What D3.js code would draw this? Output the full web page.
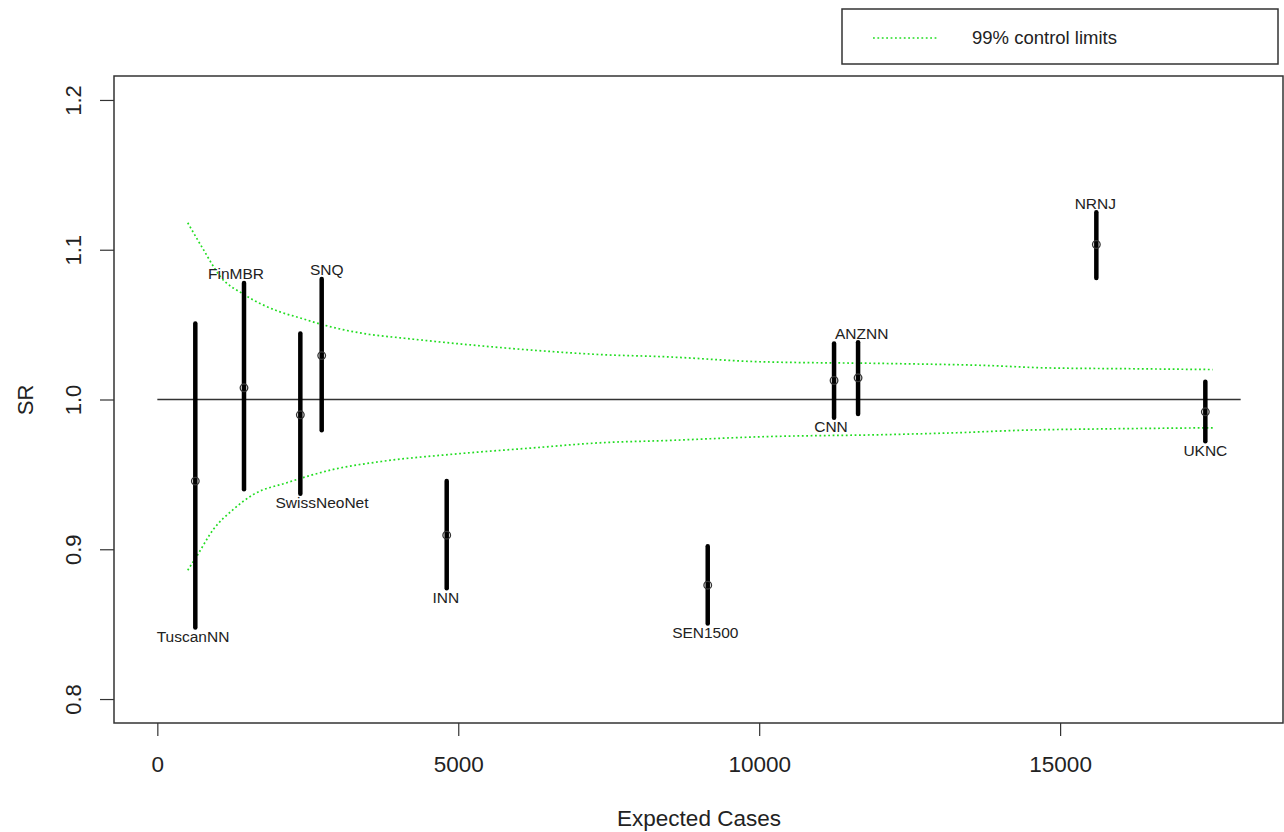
<!DOCTYPE html>
<html>
<head>
<meta charset="utf-8">
<script src="https://d3js.org/d3.v7.min.js"></script>
<style>
  body { margin: 0; background: #fff; }
  text { font-family: "Liberation Sans", Arial, sans-serif; fill: #222; }
</style>
</head>
<body>
<script>
// centres, expected cases and standardised ratio with its interval
var centers = ["TuscanNN", "FinMBR", "SwissNeoNet", "SNQ", "INN", "SEN1500", "CNN", "ANZNN", "NRNJ", "UKNC"];
var expected = [631, 1440, 2376, 2731, 4808, 9145, 11244, 11643, 15602, 17413];
var sr = [0.9455, 1.0078, 0.9898, 1.0293, 0.9094, 0.876, 1.0127, 1.0145, 1.1035, 0.9918];
var srLow = [0.8478, 0.940, 0.937, 0.9795, 0.874, 0.8504, 0.9878, 0.9904, 1.0812, 0.9722];
var srHigh = [1.0507, 1.0778, 1.044, 1.0805, 0.9455, 0.902, 1.0374, 1.0383, 1.125, 1.0118];
var labelSide = ["below", "above", "below", "above", "below", "below", "below", "above", "above", "below"];
var labelX = [593, 1308, 2736, 2815, 4792, 9105, 11194, 11704, 15585, 17413];

// 99% control limits
var upperX = [505, 764, 1042, 1441, 2039, 2371, 2732, 3534, 4033, 5141, 6247, 7356, 8464, 10014, 12174, 13781, 14778, 16273, 17536];
var upperY = [1.118, 1.1002, 1.0823, 1.0701, 1.0585, 1.0545, 1.0501, 1.0434, 1.0412, 1.0367, 1.0329, 1.0300, 1.0285, 1.0252, 1.0240, 1.0227, 1.0211, 1.0205, 1.0200];
var lowerX = [505, 655, 930, 1263, 1595, 2150, 2924, 3755, 4863, 6247, 7356, 8464, 10014, 12174, 13282, 14389, 15775, 17536];
var lowerY = [0.886, 0.8954, 0.9132, 0.9266, 0.9366, 0.9444, 0.9533, 0.9588, 0.9633, 0.9677, 0.9711, 0.9726, 0.9751, 0.9766, 0.9778, 0.9795, 0.9804, 0.9811];

var xTicks = [0, 5000, 10000, 15000];
var yTicks = [0.8, 0.9, 1.0, 1.1, 1.2];

var W = 1284, H = 832;
var box = {left: 114, right: 1283, top: 76, bottom: 723};

var svg = d3.select("body").append("svg")
    .attr("width", W)
    .attr("height", H);

var x = d3.scaleLinear().domain([-720, 18720]).range([box.left, 1284]);
var y = d3.scaleLinear().domain([0.784, 1.216]).range([box.bottom, box.top]);

// plot frame
svg.append("rect")
    .attr("x", box.left).attr("y", box.top)
    .attr("width", box.right - box.left).attr("height", box.bottom - box.top)
    .attr("fill", "none").attr("stroke", "#333").attr("stroke-width", 1.5);

// axes
var xAxis = svg.append("g")
    .attr("transform", "translate(0," + box.bottom + ")")
    .call(d3.axisBottom(x).tickValues(xTicks).tickSize(13).tickPadding(20).tickFormat(d3.format("d")));
xAxis.select(".domain").remove();
xAxis.selectAll("line").attr("stroke", "#333").attr("stroke-width", 1.2);
xAxis.selectAll("text").style("font-size", "22.5px").attr("fill", "#222");

var yAxis = svg.append("g")
    .attr("transform", "translate(" + box.left + ",0)")
    .call(d3.axisLeft(y).tickValues(yTicks).tickSize(14).tickFormat(d3.format(".1f")));
yAxis.select(".domain").remove();
yAxis.selectAll("line").attr("stroke", "#333").attr("stroke-width", 1.2);
yAxis.selectAll("text")
    .attr("x", null).attr("dy", "0.35em")
    .attr("text-anchor", "middle")
    .attr("transform", "translate(-41,0) rotate(-90)")
    .style("font-size", "22px").attr("fill", "#222");

svg.append("text")
    .attr("x", (box.left + 1284) / 2).attr("y", 826)
    .attr("text-anchor", "middle")
    .style("font-size", "22.5px")
    .text("Expected Cases");

svg.append("text")
    .attr("transform", "translate(25,400) rotate(-90)")
    .attr("dy", "0.35em")
    .attr("text-anchor", "middle")
    .style("font-size", "22px")
    .text("SR");

// reference line at SR = 1
svg.append("line")
    .attr("x1", x(0)).attr("x2", x(18000))
    .attr("y1", y(1)).attr("y2", y(1))
    .attr("stroke", "#333").attr("stroke-width", 1.5);

// control limits
var limitLine = d3.line()
    .x(d => x(d[0]))
    .y(d => y(d[1]))
    .curve(d3.curveMonotoneX);

[d3.zip(upperX, upperY), d3.zip(lowerX, lowerY)].forEach(pts => {
    svg.append("path")
        .attr("d", limitLine(pts))
        .attr("fill", "none")
        .attr("stroke", "#22dd22")
        .attr("stroke-width", 1.7)
        .attr("stroke-dasharray", "1.8,2.6");
});

// intervals, points and labels
var data = centers.map((c, i) => ({
    name: c, e: expected[i], sr: sr[i], lo: srLow[i], hi: srHigh[i],
    side: labelSide[i], lx: labelX[i]
}));

var g = svg.selectAll("g.centre")
    .data(data)
    .enter()
    .append("g")
    .attr("class", "centre");

g.append("line")
    .attr("x1", d => x(d.e)).attr("x2", d => x(d.e))
    .attr("y1", d => y(d.lo)).attr("y2", d => y(d.hi))
    .attr("stroke", "#000")
    .attr("stroke-width", 4.5)
    .attr("stroke-linecap", "round");

g.append("circle")
    .attr("cx", d => x(d.e)).attr("cy", d => y(d.sr))
    .attr("r", 3.8)
    .attr("fill", "none")
    .attr("stroke", "#333")
    .attr("stroke-width", 1.3);

g.append("text")
    .attr("x", d => x(d.lx))
    .attr("y", d => d.side === "above" ? y(d.hi) - 9 : y(d.lo) + 9)
    .attr("dy", "0.35em")
    .attr("text-anchor", "middle")
    .style("font-size", "15.5px")
    .attr("fill", "#222")
    .text(d => d.name);

// legend
var legend = svg.append("g");
legend.append("rect")
    .attr("x", 842).attr("y", 9)
    .attr("width", 436).attr("height", 55)
    .attr("fill", "#fff").attr("stroke", "#333").attr("stroke-width", 1.5);
legend.append("line")
    .attr("x1", 873).attr("x2", 938)
    .attr("y1", 38).attr("y2", 38)
    .attr("stroke", "#22dd22")
    .attr("stroke-width", 1.7)
    .attr("stroke-dasharray", "1.8,2.6");
legend.append("text")
    .attr("x", 972).attr("y", 38)
    .attr("dy", "0.35em")
    .style("font-size", "18.5px")
    .text("99% control limits");
</script>
</body>
</html>
